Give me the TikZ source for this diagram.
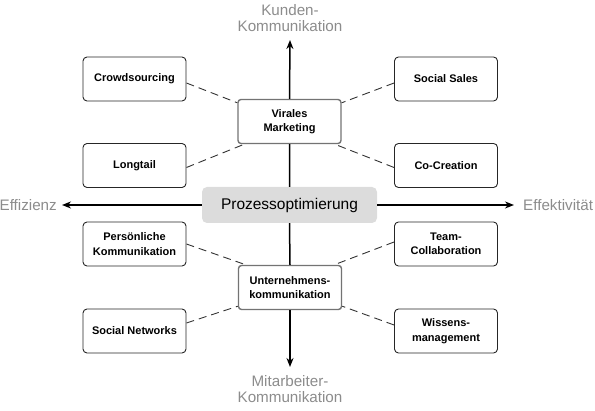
\documentclass[tikz,border=0pt]{standalone}
\usepackage{fontspec}
\setmainfont{Liberation Sans}
\usetikzlibrary{arrows.meta}
\definecolor{labelgray}{HTML}{8C8C8C}
\definecolor{procgray}{HTML}{DCDCDC}
\tikzset{
  item/.style={draw=black!85, line width=0.9pt, rounded corners=4pt, minimum width=103pt, minimum height=44pt,
    align=center, inner sep=1pt, font=\fontsize{11}{14.5}\selectfont\bfseries},
  hub/.style={item, draw=black!55, line width=1.4pt, rounded corners=3pt},
  axislabel/.style={text=labelgray, align=center, inner sep=0pt, font=\fontsize{15.2}{16.5}\selectfont},
  axis/.style={line width=1.5pt, -{Stealth[length=9pt,width=7pt]}},
  link/.style={black!80, line width=0.9pt, dash pattern=on 8pt off 5pt},
}
\begin{document}
\begin{tikzpicture}[x=1pt, y=-1pt]
    \useasboundingbox (0,0) rectangle (595,411);
    \def\xl{134.5}
    \def\xr{446}
    % centre: the grey box and the two hubs on the vertical axis
    \node[fill=procgray, rounded corners=5pt, minimum width=175pt, minimum height=36pt,
      font=\fontsize{15.5}{18}\selectfont] (proc) at (289.5,205) {Prozessoptimierung};
    \node[hub] (viral) at (289.5,121.5) {Virales\\Marketing};
    \node[hub] (unt) at (290,287.5) {Unternehmens-\\kommunikation};
    % the eight boxes around them
    \foreach \nm/\x/\y/\txt in {crowd/\xl/79/Crowdsourcing, long/\xl/165.5/Longtail,
        pers/\xl/244/{Pers\"onliche\\Kommunikation}, netw/\xl/331/Social Networks,
        sales/\xr/79/Social Sales, cocr/\xr/165.5/Co-Creation,
        team/\xr/244/{Team-\\Collaboration}, wiss/\xr/331/{Wissens-\\management}}{
        \node[item] (\nm) at (\x,\y) {\txt};
    }
    % axis ends and their labels
    \coordinate (up) at (290,40);
    \coordinate (down) at (290,367);
    \coordinate (west) at (62,205);
    \coordinate (east) at (514,205);
    \node[axislabel, anchor=south] (kunden) at (290,32) {Kunden-\\Kommunikation};
    \node[axislabel, anchor=north] (mitarb) at (290,375) {Mitarbeiter-\\Kommunikation};
    \node[axislabel, anchor=east] (effiz) at (57,205) {Effizienz};
    \node[axislabel, anchor=west] (effekt) at (523,205) {Effektivit\"at};
    \draw[axis] (viral.north) -- (up);
    \draw[axis] (unt.south) -- (down);
    \draw[axis] (proc.west) -- (west);
    \draw[axis] (proc.east) -- (east);
    \draw[line width=1.5pt] (viral.south) -- (proc.north) (proc.south) -- (unt.north);
    % dashed links to the hubs
    \draw[link] ([yshift=-4pt]crowd.east) -- ([yshift=-4pt]viral.north west);
    \draw[link] ([yshift=-2pt]long.east) -- ([xshift=7pt]viral.south west);
    \draw[link] ([yshift=-4pt]sales.west) -- ([yshift=-4pt]viral.north east);
    \draw[link] ([yshift=-2pt]cocr.west) -- ([xshift=-7pt]viral.south east);
    \draw[link] (pers.east) -- ([xshift=8pt]unt.north west);
    \draw[link] ([yshift=8pt]netw.east) -- ([yshift=4pt]unt.south west);
    \draw[link] ([yshift=2pt]team.west) -- ([xshift=-8pt]unt.north east);
    \draw[link] ([yshift=6pt]wiss.west) -- ([yshift=4pt]unt.south east);
\end{tikzpicture}
\end{document}
